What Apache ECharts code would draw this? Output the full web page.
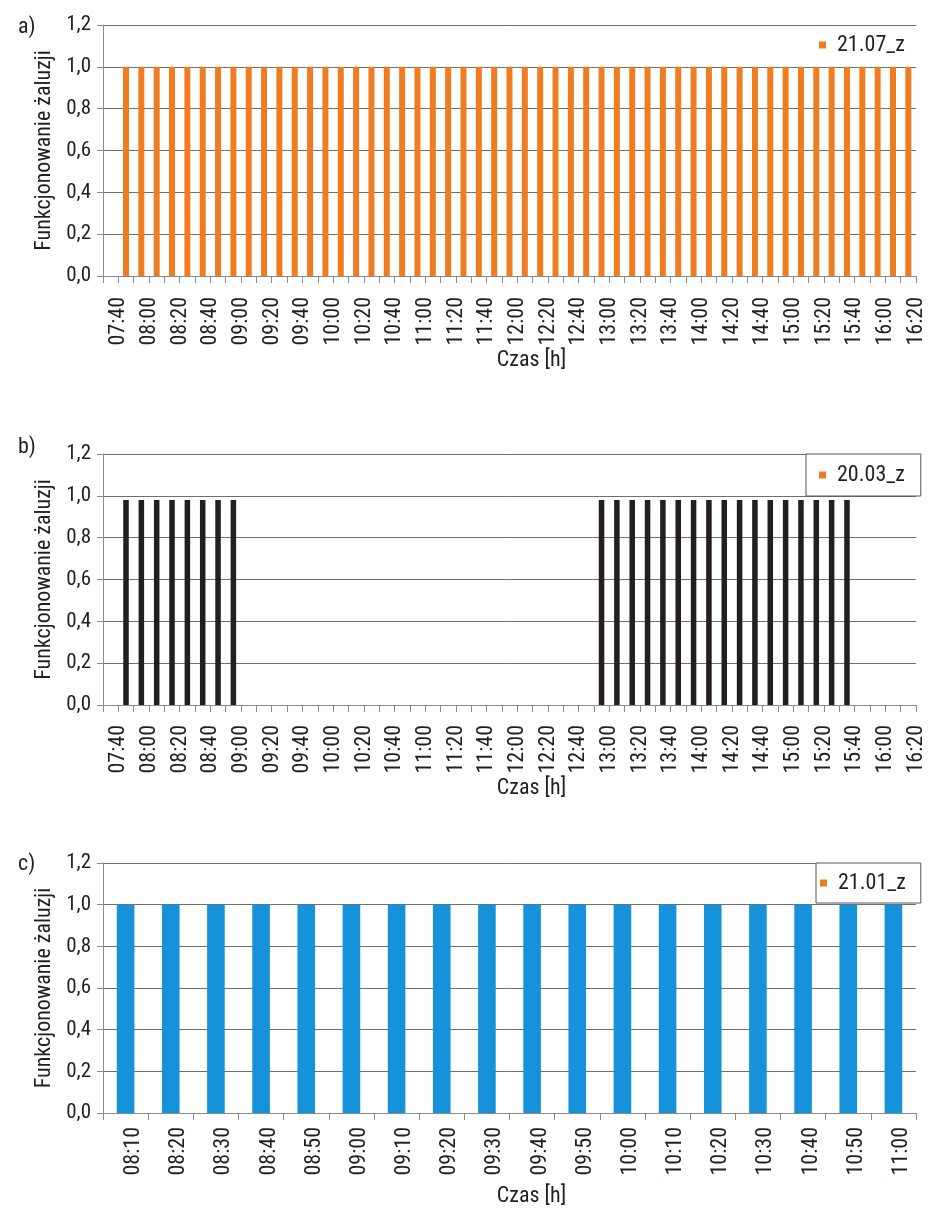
<!DOCTYPE html>
<html>
<head>
<meta charset="utf-8">
<script src="https://cdn.jsdelivr.net/npm/echarts@6/dist/echarts.min.js"></script>
<style>
html,body{margin:0;padding:0;background:#fff;}
#chart{width:938px;height:1215px;}
</style>
</head>
<body>
<div id="chart"></div>
<script>
// ---- data ----
var timesAB = ['07:40','07:50','08:00','08:10','08:20','08:30','08:40','08:50','09:00','09:10',
  '09:20','09:30','09:40','09:50','10:00','10:10','10:20','10:30','10:40','10:50',
  '11:00','11:10','11:20','11:30','11:40','11:50','12:00','12:10','12:20','12:30',
  '12:40','12:50','13:00','13:10','13:20','13:30','13:40','13:50','14:00','14:10',
  '14:20','14:30','14:40','14:50','15:00','15:10','15:20','15:30','15:40','15:50',
  '16:00','16:10','16:20'];
var valuesA = [0,1,1,1,1,1,1,1,1,1,
  1,1,1,1,1,1,1,1,1,1,
  1,1,1,1,1,1,1,1,1,1,
  1,1,1,1,1,1,1,1,1,1,
  1,1,1,1,1,1,1,1,1,1,
  1,1,1];
var valuesB = [0,0.98,0.98,0.98,0.98,0.98,0.98,0.98,0.98,0,
  0,0,0,0,0,0,0,0,0,0,
  0,0,0,0,0,0,0,0,0,0,
  0,0,0.98,0.98,0.98,0.98,0.98,0.98,0.98,0.98,
  0.98,0.98,0.98,0.98,0.98,0.98,0.98,0.98,0.98,0,
  0,0,0];
var timesC = ['08:10','08:20','08:30','08:40','08:50','09:00','09:10','09:20','09:30',
  '09:40','09:50','10:00','10:10','10:20','10:30','10:40','10:50','11:00'];
var valuesC = [1,1,1,1,1,1,1,1,1,1,1,1,1,1,1,1,1,1];
var seriesNames = ['21.07_z','20.03_z','21.01_z'];
var panelLabels = ['a)','b)','c)'];
var yTicks = {min:0, max:1.2, interval:0.2};
var xName = 'Czas [h]';
var yName = 'Funkcjonowanie żaluzji';

// ---- styles ----
var FAM = "Roboto, 'Open Sans', sans-serif";
var TXT = '#231f20';
var ORANGE = '#f07b20';
function ts(size, extra){
  var o = {fontFamily:FAM, fontStyle:'condensed', fontSize:size, color:TXT};
  for (var k in extra) o[k] = extra[k];
  return o;
}
var colors = [ORANGE, '#231f20', '#1592da'];
var barW = ['39%','36%','39%'];
var grids = [
  {left:103, right:22, top:25, height:251},
  {left:103, right:22, top:454, height:251},
  {left:103, right:22, top:863, height:250}
];
var cats = [timesAB, timesAB, timesC];
var vals = [valuesA, valuesB, valuesC];
var labelInterval = [1,1,0];
var labelMargin = [21,20,14];
var xNameGap = [70,70,72];

var option = {
  animation:false,
  backgroundColor:'#fff',
  grid:grids,
  xAxis:[], yAxis:[], series:[], legend:[], graphic:[]
};
for (var i=0;i<3;i++){
  option.xAxis.push({
    type:'category', gridIndex:i, data:cats[i], boundaryGap:true,
    name:xName, nameLocation:'middle', nameGap:xNameGap[i],
    nameTextStyle:ts(22, {padding:[0,0,0,44]}),
    axisLine:{show:true, lineStyle:{color:'#8a8a8a', width:1}},
    axisTick:{show:true, interval:0, length:7, lineStyle:{color:'#8a8a8a'}},
    axisLabel:ts(22, {interval:labelInterval[i], rotate:90, margin:labelMargin[i],
      verticalAlign:'top', lineHeight:16}),
    splitLine:{show:false}
  });
  option.yAxis.push({
    type:'value', gridIndex:i, min:yTicks.min, max:yTicks.max, interval:yTicks.interval,
    name:yName, nameLocation:'middle', nameGap:37, nameRotate:90,
    nameTextStyle:ts(22),
    axisLine:{show:true, lineStyle:{color:'#8a8a8a', width:1}},
    axisTick:{show:true, length:6, lineStyle:{color:'#8a8a8a'}},
    axisLabel:ts(21, {margin:12,
      formatter:function(v){return v.toFixed(1).replace('.',',');}}),
    splitLine:{show:true, lineStyle:{color:'#6f6f6f', width:1}}
  });
  option.series.push({
    type:'bar', name:seriesNames[i], xAxisIndex:i, yAxisIndex:i,
    data:vals[i], barWidth:barW[i], itemStyle:{color:colors[i]}
  });
  option.graphic.push({
    type:'text', left:18, top:[16,436,853][i],
    style:{text:panelLabels[i], font:"condensed 22px "+FAM, fill:TXT}
  });
}
var ICON = 'path://M0,0h10v10h-10z';
option.legend = [
  {data:[{name:seriesNames[0], itemStyle:{color:ORANGE}}], left:819, top:34, padding:0,
   icon:ICON, itemWidth:19, itemHeight:7, textStyle:ts(22)},
  {data:[{name:seriesNames[1], itemStyle:{color:ORANGE}}], left:806, top:454, padding:[10,16,10,13],
   borderColor:'#555', borderWidth:1, backgroundColor:'#fff',
   icon:ICON, itemWidth:19, itemHeight:7, textStyle:ts(22)},
  {data:[{name:seriesNames[2], itemStyle:{color:ORANGE}}], left:816, top:863, padding:[9,15,9,4],
   borderColor:'#555', borderWidth:1, backgroundColor:'#fff',
   icon:ICON, itemWidth:19, itemHeight:7, textStyle:ts(22)}
];
var chart = echarts.init(document.getElementById('chart'), null, {renderer:'canvas'});
chart.setOption(option);
</script>
</body>
</html>
